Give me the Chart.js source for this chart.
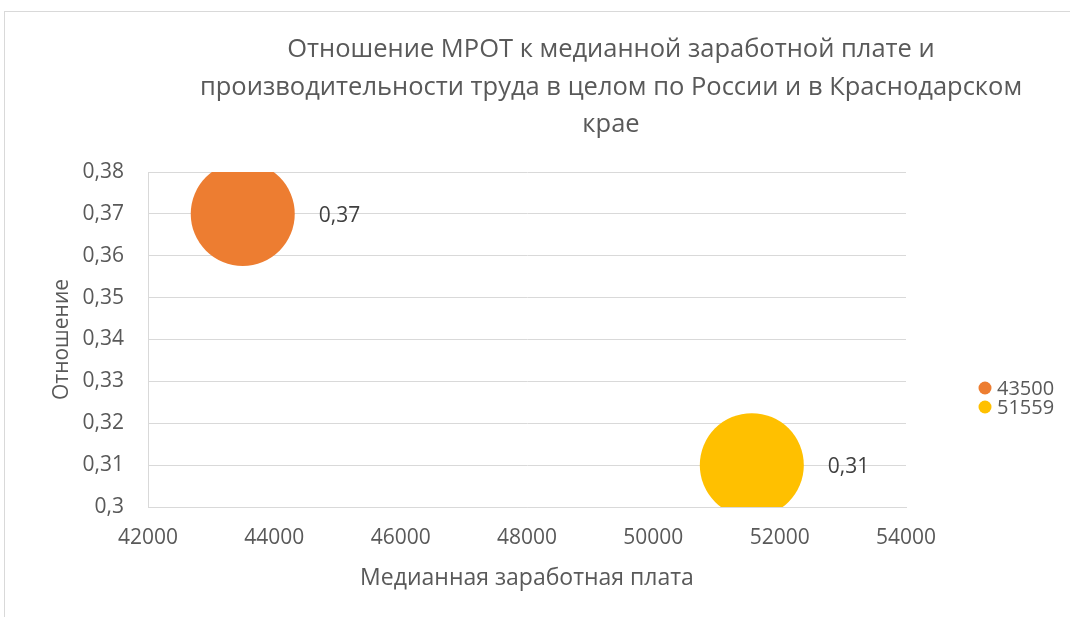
<!DOCTYPE html>
<html>
<head>
<meta charset="utf-8">
<script src="https://cdn.jsdelivr.net/npm/chart.js@4/dist/chart.umd.min.js"></script>
<style>
  html, body { margin: 0; padding: 0; background: #fff; overflow: hidden; }
  #frame { position: absolute; left: 4px; top: 11px; width: 1300px; height: 800px; border: 1px solid #d9d9d9; }
  #wrap { position: absolute; left: 0; top: 0; width: 1070px; height: 617px; }
</style>
</head>
<body>
<div id="frame"></div>
<div id="wrap"><canvas id="c" width="1070" height="617"></canvas></div>
<script>
// ---- data ----
const TITLE_LINES = [
  'Отношение МРОТ к медианной заработной плате и',
  'производительности труда в целом по России и в Краснодарском',
  'крае'
];
const SERIES_NAMES = ['43500', '51559'];
const X_VALUES = [43500, 51559];
const Y_VALUES = [0.37, 0.31];
const BUBBLE_SIZES = [52, 52];
const SERIES_COLORS = ['#ED7D31', '#FFC000'];
const X_TITLE = 'Медианная заработная плата';
const Y_TITLE = 'Отношение';
const X_MIN = 42000, X_MAX = 54000, X_STEP = 2000;
const Y_MIN = 0.30, Y_MAX = 0.38, Y_STEP = 0.01;

const FONT = "'Open Sans', 'Noto Sans', sans-serif";
const TEXT = '#595959';
const GRID = '#d9d9d9';

const fmtY = v => String(+(+v).toFixed(2)).replace('.', ',');

const titlePlugin = {
  id: 'customTitle',
  afterDraw(chart) {
    const ctx = chart.ctx;
    ctx.save();
    ctx.fillStyle = TEXT;
    ctx.font = `25.5px ${FONT}`;
    ctx.textAlign = 'center';
    ctx.textBaseline = 'middle';
    const ys = [50, 88, 125];
    TITLE_LINES.forEach((t, i) => ctx.fillText(t, 611, ys[i]));
    ctx.restore();
  }
};

const labelPlugin = {
  id: 'bubbleLabels',
  afterDatasetsDraw(chart) {
    const ctx = chart.ctx;
    ctx.save();
    ctx.fillStyle = '#404040';
    ctx.font = `21px ${FONT}`;
    ctx.textAlign = 'left';
    ctx.textBaseline = 'middle';
    chart.data.datasets.forEach((ds, i) => {
      const meta = chart.getDatasetMeta(i);
      meta.data.forEach((el, j) => {
        const r = ds.data[j].r;
        ctx.fillText(fmtY(ds.data[j].y), el.x + r + 24, el.y + 2);
      });
    });
    ctx.restore();
  }
};

const legendPlugin = {
  id: 'customLegend',
  afterDraw(chart) {
    const ctx = chart.ctx;
    ctx.save();
    ctx.font = `20px ${FONT}`;
    ctx.textAlign = 'left';
    ctx.textBaseline = 'middle';
    chart.data.datasets.forEach((ds, i) => {
      const y = 388 + i * 19;
      ctx.fillStyle = ds.backgroundColor;
      ctx.beginPath();
      ctx.arc(985, y, 6.5, 0, Math.PI * 2);
      ctx.fill();
      ctx.fillStyle = TEXT;
      ctx.fillText(ds.label, 997, y + 1);
    });
    ctx.restore();
  }
};

new Chart(document.getElementById('c'), {
  type: 'bubble',
  data: {
    datasets: SERIES_NAMES.map((name, i) => ({
      label: name,
      data: [{ x: X_VALUES[i], y: Y_VALUES[i], r: BUBBLE_SIZES[i] }],
      backgroundColor: SERIES_COLORS[i],
      borderColor: SERIES_COLORS[i],
      borderWidth: 0,
      clip: 0
    }))
  },
  options: {
    responsive: false,
    animation: false,
    layout: { padding: { top: 172, right: 164, bottom: 0, left: 0 } },
    plugins: {
      legend: { display: false },
      title: { display: false },
      tooltip: { enabled: false }
    },
    scales: {
      x: {
        type: 'linear',
        min: X_MIN, max: X_MAX,
        ticks: { stepSize: X_STEP, color: TEXT, font: { family: FONT, size: 21 }, padding: 18, callback: v => String(v) },
        grid: { display: false, drawTicks: false },
        border: { display: true, color: GRID, width: 1 },
        title: { display: true, text: X_TITLE, color: TEXT, font: { family: FONT, size: 23 }, padding: { top: 4, bottom: 25 } },
        afterFit: s => { s.height = 110; }
      },
      y: {
        type: 'linear',
        min: Y_MIN, max: Y_MAX,
        ticks: { stepSize: Y_STEP, color: TEXT, font: { family: FONT, size: 21 }, padding: 24, callback: v => fmtY(v) },
        grid: { color: GRID, drawTicks: false },
        border: { display: true, color: GRID, width: 1 },
        title: { display: true, text: Y_TITLE, color: TEXT, font: { family: FONT, size: 21 }, padding: { bottom: 0, top: 49 } },
        afterFit: s => { s.width = 148; }
      }
    }
  },
  plugins: [titlePlugin, labelPlugin, legendPlugin]
});
</script>
</body>
</html>
